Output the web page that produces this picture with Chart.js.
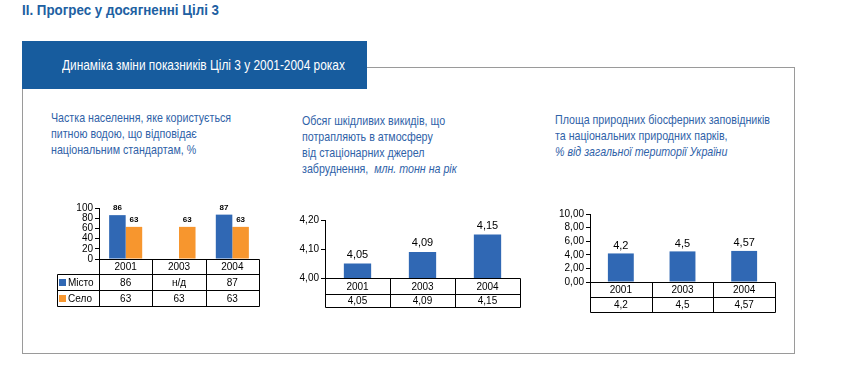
<!DOCTYPE html>
<html>
<head>
<meta charset="utf-8">
<script src="https://cdn.jsdelivr.net/npm/chart.js@4"></script>
<style>
  body { margin: 0; width: 864px; height: 375px; background: #fff; position: relative; overflow: hidden; }
  .abs { position: absolute; }
  /* Arial Narrow is Arial squeezed horizontally: do the same with Liberation Sans */
  .narrow { font-family: "Liberation Sans", Arial, sans-serif; transform: scaleX(0.82); transform-origin: left top; white-space: nowrap; }
  #heading { left: 22px; top: 1px; font-size: 15px; font-weight: bold; color: #2060a2; line-height: 18px; transform: scaleX(0.89); }
  #frame { left: 22px; top: 67px; width: 771px; height: 285px; border: 1px solid #9a9a9a; }
  #banner { left: 22px; top: 41px; width: 345px; height: 48px; background: #175c9e; }
  #banner span { position: absolute; left: 40px; top: 0; color: #fff; font-size: 14.5px; line-height: 49px; }
  .ctitle { font-size: 13px; line-height: 16px; color: #2f62a8; }
  canvas { position: absolute; }
</style>
</head>
<body>
<div id="heading" class="abs narrow">II. Прогрес у досягненні Цілі 3</div>
<div id="frame" class="abs"></div>
<div id="banner" class="abs"><span class="narrow">Динаміка зміни показників Цілі 3 у 2001-2004 роках</span></div>

<div class="abs narrow ctitle" style="left:51px; top:110px;">Частка населення, яке користується<br>питною водою, що відповідає<br>національним стандартам, %</div>
<div class="abs narrow ctitle" style="left:302px; top:113px;">Обсяг шкідливих викидів, що<br>потрапляють в атмосферу<br>від стаціонарних джерел<br>забруднення,&nbsp; <i>млн. тонн на рік</i></div>
<div class="abs narrow ctitle" style="left:555px; top:112px;">Площа природних біосферних заповідників<br>та національних природних парків,<br><i>% від загальної території України</i></div>

<canvas id="water" style="left:50px; top:195px;" width="215" height="115"></canvas>
<canvas id="emissions" style="left:290px; top:205px;" width="235" height="106"></canvas>
<canvas id="reserves" style="left:545px; top:205px;" width="235" height="112"></canvas>

<script>
const years = ["2001", "2003", "2004"];

// water share, %
const cityWater = [86, null, 87];
const villageWater = [63, 63, 63];
const waterTicks = [0, 20, 40, 60, 80, 100];

// emissions, mln tonnes per year
const emissions = [4.05, 4.09, 4.15];
const emissionTicks = [4.0, 4.1, 4.2];

// reserves and parks, % of territory
const reserves = [4.2, 4.5, 4.57];
const reserveTicks = [0, 2, 4, 6, 8, 10];

const blue = "#3068b4";
const orange = "#f7962e";

const comma = (v) => String(v).replace(".", ",");

// value labels above the bars
const barLabels = {
  id: "barLabels",
  afterDatasetsDraw(chart, args, opts) {
    const ctx = chart.ctx;
    ctx.save();
    ctx.font = opts.font;
    ctx.fillStyle = "#000";
    ctx.textAlign = "center";
    ctx.textBaseline = "bottom";
    chart.data.datasets.forEach((ds, i) => {
      chart.getDatasetMeta(i).data.forEach((bar, j) => {
        if (ds.data[j] == null) return;
        ctx.fillText(comma(ds.data[j]), bar.x, bar.y - opts.offset);
      });
    });
    ctx.restore();
  },
};

// data table under the category axis
const dataTable = {
  id: "dataTable",
  afterDraw(chart, args, opts) {
    const { ctx, chartArea } = chart;
    const x = chart.scales.x;
    const n = chart.data.labels.length;
    const w = (x.right - x.left) / n;
    const top = chartArea.bottom;
    const h = opts.rowHeights;
    const bottom = top + h.reduce((a, b) => a + b, 0);
    const legendLeft = x.left - (opts.legendWidth || 0);

    ctx.save();
    ctx.strokeStyle = "#000";
    ctx.lineWidth = 1;
    ctx.beginPath();
    const line = (x1, y1, x2, y2) => {
      ctx.moveTo(Math.round(x1) + 0.5, Math.round(y1) + 0.5);
      ctx.lineTo(Math.round(x2) + 0.5, Math.round(y2) + 0.5);
    };
    // horizontal lines
    line(x.left, top, x.right, top);
    let y = top;
    h.forEach((rh) => {
      y += rh;
      line(legendLeft, y, x.right, y);
    });
    // vertical lines
    for (let i = 0; i <= n; i++) line(x.left + i * w, top, x.left + i * w, bottom);
    if (opts.legendWidth) line(legendLeft, top + h[0], legendLeft, bottom);
    ctx.stroke();

    ctx.font = "10px 'Liberation Sans', Arial, sans-serif";
    ctx.fillStyle = "#000";
    ctx.textAlign = "center";
    ctx.textBaseline = "middle";
    chart.data.labels.forEach((lab, i) => {
      ctx.fillText(lab, x.left + (i + 0.5) * w, top + h[0] / 2 + 1);
    });
    let rowTop = top + h[0];
    chart.data.datasets.forEach((ds, r) => {
      const cy = rowTop + h[r + 1] / 2 + 1;
      ds.data.forEach((v, i) => {
        ctx.fillText(v == null ? "н/д" : comma(v), x.left + (i + 0.5) * w, cy);
      });
      if (opts.legendWidth) {
        ctx.fillStyle = ds.backgroundColor;
        ctx.fillRect(legendLeft + 2, cy - 4, 7, 7);
        ctx.fillStyle = "#000";
        ctx.textAlign = "left";
        ctx.fillText(ds.label, legendLeft + 11, cy);
        ctx.textAlign = "center";
      }
      rowTop += h[r + 1];
    });
    ctx.restore();
  },
};

Chart.defaults.font.family = "'Liberation Sans', Arial, sans-serif";
Chart.defaults.font.size = 10;
Chart.defaults.color = "#000";

function makeChart(id, datasets, cfg) {
  return new Chart(document.getElementById(id), {
    type: "bar",
    data: { labels: years, datasets },
    options: {
      responsive: false,
      animation: false,
      layout: { padding: cfg.padding },
      datasets: { bar: { barPercentage: 1, categoryPercentage: cfg.catPct } },
      plugins: {
        legend: { display: false },
        tooltip: { enabled: false },
        barLabels: cfg.labels,
        dataTable: cfg.table,
      },
      scales: {
        x: {
          ticks: { display: false },
          grid: { display: false },
          border: { display: false },
          afterFit: (s) => { s.height = cfg.table.rowHeights.reduce((a, b) => a + b, 0); },
        },
        y: {
          min: cfg.ticks[0],
          max: cfg.ticks[cfg.ticks.length - 1],
          afterBuildTicks: (s) => { s.ticks = cfg.ticks.map((v) => ({ value: v })); },
          afterFit: (s) => { s.width = cfg.axisWidth; },
          ticks: { autoSkip: false, padding: 2, callback: cfg.tickFormat },
          grid: { drawOnChartArea: false, drawTicks: true, tickLength: 4, color: "#000" },
          border: { display: true, color: "#000" },
        },
      },
    },
    plugins: [barLabels, dataTable],
  });
}

makeChart("water", [
  { label: "Місто", data: cityWater, backgroundColor: blue },
  { label: "Село", data: villageWater, backgroundColor: orange },
], {
  padding: { top: 13, right: 6, bottom: 4, left: 0 },
  catPct: 0.62,
  axisWidth: 49,
  ticks: waterTicks,
  tickFormat: (v) => v,
  labels: { font: "bold 8px 'Liberation Sans', Arial, sans-serif", offset: 3 },
  table: { rowHeights: [15, 16, 16], legendWidth: 42 },
});

makeChart("emissions", [
  { label: "", data: emissions, backgroundColor: blue },
], {
  padding: { top: 15, right: 5, bottom: 4, left: 0 },
  catPct: 0.42,
  axisWidth: 35,
  ticks: emissionTicks,
  tickFormat: (v) => v.toFixed(2).replace(".", ","),
  labels: { font: "11px 'Liberation Sans', Arial, sans-serif", offset: 3 },
  table: { rowHeights: [16, 13] },
});

makeChart("reserves", [
  { label: "", data: reserves, backgroundColor: blue },
], {
  padding: { top: 9, right: 5, bottom: 5, left: 0 },
  catPct: 0.42,
  axisWidth: 45,
  ticks: reserveTicks,
  tickFormat: (v) => v.toFixed(2).replace(".", ","),
  labels: { font: "11px 'Liberation Sans', Arial, sans-serif", offset: 2 },
  table: { rowHeights: [15, 15] },
});
</script>
</body>
</html>
